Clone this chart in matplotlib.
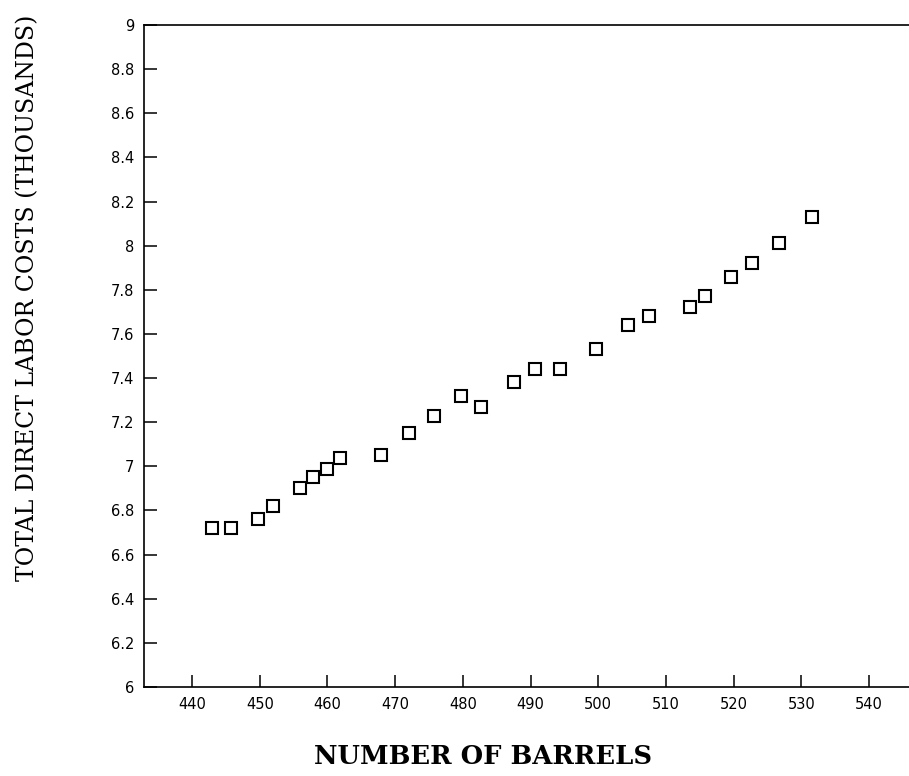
import matplotlib
matplotlib.use("Agg")
import matplotlib.pyplot as plt

# number of barrels vs total direct labor costs (thousands)
barrels = [443, 445.8, 449.8, 451.9, 456, 457.9, 460, 461.9, 467.9, 472,
           475.8, 479.7, 482.7, 487.6, 490.7, 494.4, 499.6, 504.4, 507.5,
           513.6, 515.7, 519.6, 522.7, 526.7, 531.6]
costs = [6.72, 6.72, 6.76, 6.82, 6.90, 6.95, 6.99, 7.04, 7.05, 7.15,
         7.23, 7.32, 7.27, 7.38, 7.44, 7.44, 7.53, 7.64, 7.68,
         7.72, 7.77, 7.86, 7.92, 8.01, 8.13]

x_ticks = [440, 450, 460, 470, 480, 490, 500, 510, 520, 530, 540]
y_ticks = [6, 6.2, 6.4, 6.6, 6.8, 7, 7.2, 7.4, 7.6, 7.8, 8, 8.2, 8.4, 8.6, 8.8, 9]

fig = plt.figure(figsize=(9.09, 7.76), dpi=100)
ax = fig.add_axes([144 / 909, 1 - 687 / 776, 1 - 144 / 909, (687 - 25) / 776])

ax.plot(barrels, costs, linestyle='none', marker='s', markersize=8,
        markerfacecolor='white', markeredgecolor='black', markeredgewidth=1.5)

ax.set_xlim(432.9, 545.9)
ax.set_ylim(6, 9)
ax.set_xticks(x_ticks)
ax.set_yticks(y_ticks)
ax.set_yticklabels(['%g' % v for v in y_ticks])
ax.tick_params(direction='in', length=9, width=1.1, labelsize=10.5, pad=7)

ax.spines['right'].set_visible(False)
for s in ['left', 'bottom', 'top']:
    ax.spines[s].set_linewidth(1.2)

fig.text(483 / 909, 1 - 757 / 776, 'NUMBER OF BARRELS', ha='center', va='center',
         family='DejaVu Serif', fontweight='bold', fontsize=18.5)
fig.text(28 / 909, 1 - 298 / 776, 'TOTAL DIRECT LABOR COSTS (THOUSANDS)',
         ha='center', va='center', rotation=90, family='DejaVu Serif', fontsize=17)

fig.savefig('out.png', dpi=100)
